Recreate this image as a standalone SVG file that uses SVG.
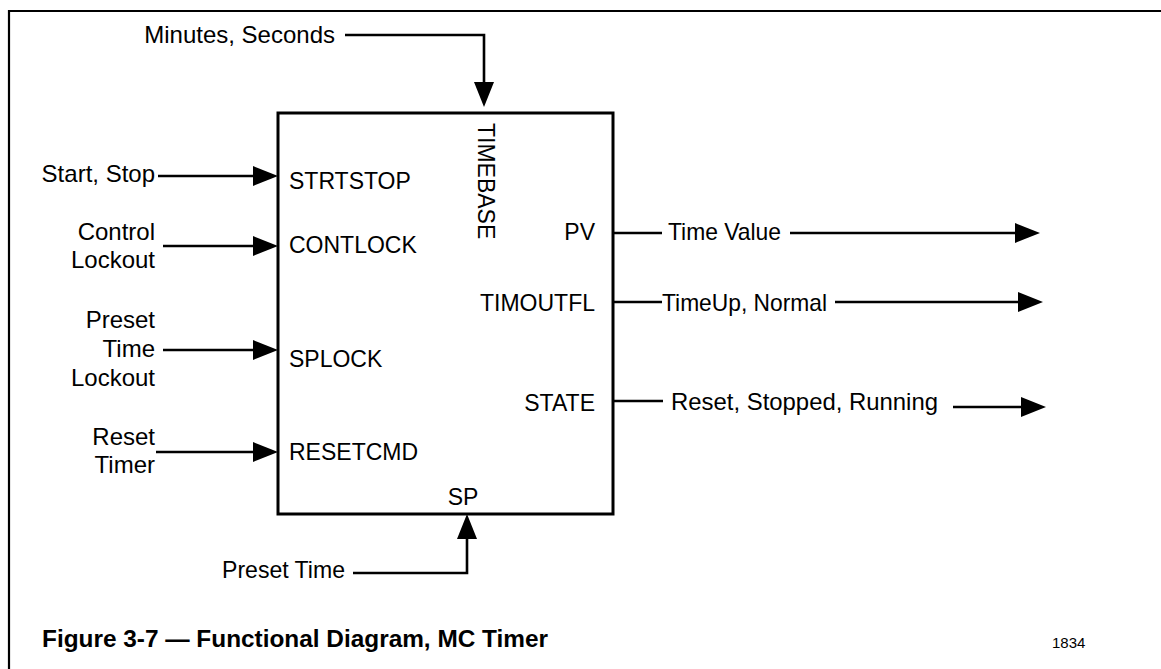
<svg xmlns="http://www.w3.org/2000/svg" width="1161" height="669" viewBox="0 0 1161 669">
  <style>
    text { font-family: "Liberation Sans", Arial, Helvetica, sans-serif; fill: #000; }
    .sig { font-size: 24px; }
    .pin { font-size: 23px; }
    .end { text-anchor: end; }
    .mid { text-anchor: middle; }
    .caption { font-size: 24px; font-weight: bold; }
    .ref { font-size: 15px; }
    .frame { fill: none; stroke: #000; stroke-width: 2.2; }
    .block { fill: #fff; stroke: #000; stroke-width: 3; }
    .wire { fill: none; stroke: #000; stroke-width: 2.6; }
    .arrow { marker-end: url(#head); }
  </style>
  <defs>
    <marker id="head" markerUnits="userSpaceOnUse" markerWidth="26" markerHeight="22" refX="1" refY="10" orient="auto" viewBox="0 0 26 20">
      <path d="M0,0 L25,10 L0,20 Z" fill="#000"/>
    </marker>
  </defs>

  <rect width="1161" height="669" fill="#fff"/>

  <!-- page frame: top rule and left rule -->
  <path class="frame" d="M9,669 V11 H1161"/>

  <!-- timer function block -->
  <g id="timer-block">
    <rect class="block" x="278" y="113" width="335" height="401"/>
    <text class="pin" x="289" y="189">STRTSTOP</text>
    <text class="pin" x="289" y="253">CONTLOCK</text>
    <text class="pin" x="289" y="367">SPLOCK</text>
    <text class="pin" x="289" y="460">RESETCMD</text>
    <text class="pin" transform="translate(478,123) rotate(90)">TIMEBASE</text>
    <text class="pin end" x="595" y="240">PV</text>
    <text class="pin end" x="595" y="311">TIMOUTFL</text>
    <text class="pin end" x="595" y="411">STATE</text>
    <text class="pin mid" x="463" y="505">SP</text>
  </g>

  <!-- input signal labels -->
  <g id="in-timebase">
    <text class="sig end" x="335" y="43">Minutes, Seconds</text>
  </g>
  <g id="in-startstop">
    <text class="sig end" x="155" y="182">Start, Stop</text>
  </g>
  <g id="in-contlock">
    <text class="sig end" x="155" y="240">Control</text>
    <text class="sig end" x="155" y="268">Lockout</text>
  </g>
  <g id="in-splock">
    <text class="sig end" x="155" y="328">Preset</text>
    <text class="sig end" x="155" y="357">Time</text>
    <text class="sig end" x="155" y="386">Lockout</text>
  </g>
  <g id="in-resetcmd">
    <text class="sig end" x="155" y="445">Reset</text>
    <text class="sig end" x="155" y="473">Timer</text>
  </g>
  <g id="in-sp">
    <text class="sig" x="222" y="578" textLength="123" lengthAdjust="spacingAndGlyphs">Preset Time</text>
  </g>

  <!-- output signal labels -->
  <g id="out-pv">
    <text class="sig" x="668" y="240" textLength="113" lengthAdjust="spacingAndGlyphs">Time Value</text>
  </g>
  <g id="out-timoutfl">
    <text class="sig" x="662" y="311" textLength="165" lengthAdjust="spacingAndGlyphs">TimeUp, Normal</text>
  </g>
  <g id="out-state">
    <text class="sig" x="671" y="410" textLength="267" lengthAdjust="spacingAndGlyphs">Reset, Stopped, Running</text>
  </g>

  <!-- connectors -->
  <g id="connectors">
    <path class="wire arrow" d="M345,35 H484 V83"/>
    <path class="wire arrow" d="M158,176 H254"/>
    <path class="wire arrow" d="M163,246 H254"/>
    <path class="wire arrow" d="M163,350 H254"/>
    <path class="wire arrow" d="M156,452 H254"/>
    <path class="wire arrow" d="M353,573 H467 V538"/>
    <path class="wire" d="M613,233 H662"/>
    <path class="wire arrow" d="M790,233 H1016"/>
    <path class="wire" d="M613,302 H662"/>
    <path class="wire arrow" d="M835,302 H1019"/>
    <path class="wire" d="M613,401 H663"/>
    <path class="wire arrow" d="M953,407 H1022"/>
  </g>

  <!-- caption -->
  <text class="caption" x="42" y="647" textLength="506" lengthAdjust="spacingAndGlyphs">Figure 3-7 — Functional Diagram, MC Timer</text>
  <text class="ref" x="1052" y="648">1834</text>
</svg>
